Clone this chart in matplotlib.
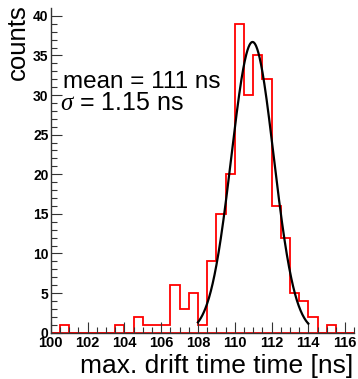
import matplotlib
matplotlib.use('Agg')
import matplotlib.pyplot as plt
from matplotlib.ticker import MultipleLocator
import numpy as np

plt.rcParams['font.family'] = ['Liberation Sans', 'DejaVu Sans']
plt.rcParams['mathtext.fontset'] = 'custom'
plt.rcParams['mathtext.it'] = 'Liberation Serif:italic'

# Histogram of max. drift time, 0.5 ns bins from 100 ns
bin_start = 100.0
bin_width = 0.5
counts = [0, 1, 0, 0, 0, 0, 0, 1, 0, 2, 1, 1, 1, 6, 3, 5, 1, 9, 15, 20,
          39, 30, 35, 32, 16, 12, 5, 4, 2, 0, 1, 0, 0]

# Gaussian fit parameters
fit_amp = 36.7
fit_mean = 110.97
fit_sigma = 1.15
fit_range = (108.0, 114.0)

W, H = 358, 379
fig = plt.figure(figsize=(W / 100, H / 100), dpi=100)

# axes frame in pixels: left 50.7, right 354.3, top 8.3, bottom 332.7
ax = fig.add_axes([50.7 / W, 1 - 332.7 / H, (354.3 - 50.7) / W, (332.7 - 8.3) / H])

edges = bin_start + bin_width * np.arange(len(counts) + 1)
ax.stairs(counts, edges, color='#ff0000', lw=1.3, baseline=None)
# zero line drawn by the histogram along the bottom
ax.plot([edges[0], edges[-1]], [0, 0], color='#ff0000', lw=1.3, zorder=1)

xf = np.linspace(fit_range[0], fit_range[1], 300)
yf = fit_amp * np.exp(-0.5 * ((xf - fit_mean) / fit_sigma) ** 2)
ax.plot(xf, yf, color='black', lw=1.6)

ax.set_xlim(edges[0], edges[-1])
ax.set_ylim(0, 1.05 * max(counts))

ax.spines['top'].set_visible(False)
ax.spines['right'].set_visible(False)
for s in ('left', 'bottom'):
    ax.spines[s].set_linewidth(1.0)
    ax.spines[s].set_color('#333333')

ax.xaxis.set_major_locator(MultipleLocator(2))
ax.xaxis.set_minor_locator(MultipleLocator(0.5))
ax.yaxis.set_major_locator(MultipleLocator(5))
ax.yaxis.set_minor_locator(MultipleLocator(1))
ax.tick_params(which='both', direction='in', color='#333333', width=0.8)
ax.tick_params(which='major', length=8)
ax.tick_params(which='minor', length=4.5)
ax.tick_params(axis='x', which='major', pad=2.5, labelsize=10.5)
ax.tick_params(axis='y', which='major', pad=1.5, labelsize=10)
for lab in ax.get_xticklabels() + ax.get_yticklabels():
    lab.set_fontweight('bold')

fig.text(17.5 / W, 1 - 4 / H, 'counts', rotation=90, ha='center', va='top',
         fontsize=18.5)
fig.text(353 / W, 6 / H, 'max. drift time time [ns]', ha='right',
         va='baseline', fontsize=19)
fig.text(63 / W, 1 - 88 / H, 'mean = 111 ns', ha='left', va='baseline',
         fontsize=17.5)
fig.text(60 / W, 1 - 110 / H, r'$\sigma$ = 1.15 ns', ha='left',
         va='baseline', fontsize=18)

fig.savefig('out.png', dpi=100)
